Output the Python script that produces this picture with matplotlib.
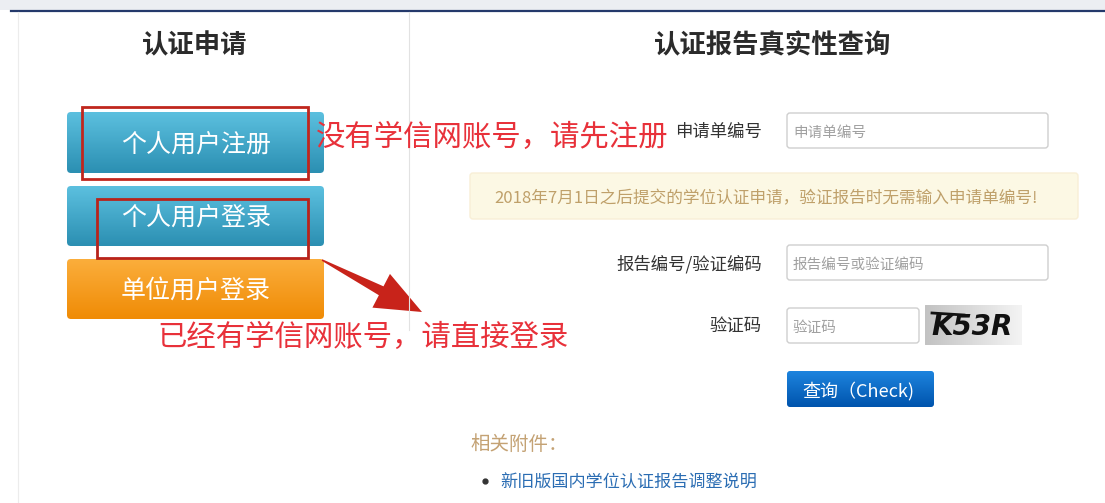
import numpy as np
import matplotlib
matplotlib.use("Agg")
import matplotlib.pyplot as plt
from matplotlib.patches import FancyBboxPatch, Rectangle, Polygon
from matplotlib.colors import LinearSegmentedColormap

plt.rcParams['font.family'] = ['Noto Sans CJK SC', 'DejaVu Sans']

# ---- content ----
left_title = "认证申请"
right_title = "认证报告真实性查询"
button_labels = ["个人用户注册", "个人用户登录", "单位用户登录"]
button_tops = ["#5cc0df", "#5cc0df", "#fbae3c"]
button_bottoms = ["#2b8fb2", "#2b8fb2", "#f08b05"]
note_register = "没有学信网账号，请先注册"
note_login = "已经有学信网账号，请直接登录"
field_labels = ["申请单编号", "报告编号/验证编码", "验证码"]
field_placeholders = ["申请单编号", "报告编号或验证编码", "验证码"]
alert_text = "2018年7月1日之后提交的学位认证申请，验证报告时无需输入申请单编号!"
captcha_text = "K53R"
query_label = "查询（Check)"
attach_title = "相关附件："
attach_links = ["新旧版国内学位认证报告调整说明"]

W, H = 1105, 503
fig = plt.figure(figsize=(W / 100, H / 100), dpi=100)
ax = fig.add_axes([0, 0, 1, 1])
ax.set_xlim(0, W)
ax.set_ylim(H, 0)
ax.axis('off')

DY = 2  # CJK glyphs sit a little high with va='center'


def gradient_box(x, y, w, h, c_top, c_bot, r=4, horizontal=False):
    patch = FancyBboxPatch((x + r, y + r), w - 2 * r, h - 2 * r,
                           boxstyle=f"round,pad={r}", fc='none', ec='none')
    ax.add_patch(patch)
    cmap = LinearSegmentedColormap.from_list('g', [c_top, c_bot])
    grad = np.linspace(0, 1, 128)
    grad = grad.reshape(1, -1) if horizontal else grad.reshape(-1, 1)
    img = ax.imshow(grad, cmap=cmap, extent=(x, x + w, y + h, y),
                    origin='upper', aspect='auto', interpolation='bilinear')
    img.set_clip_path(patch)


def input_box(x, y, w, h, placeholder):
    ax.add_patch(FancyBboxPatch((x + 3, y + 3), w - 6, h - 6,
                                boxstyle="round,pad=3", fc='white',
                                ec='#cfcfcf', lw=1))
    ax.text(x + 6, y + h / 2 + DY, placeholder, fontsize=10.5, color='#a0a0a0',
            ha='left', va='center')


# top strip and frame lines
ax.add_patch(Rectangle((0, 0), W, 10, fc='#eceef2', ec='none'))
ax.plot([11, W], [11, 11], color='#24396b', lw=1.6)
ax.plot([18, 18], [12, H], color='#ececec', lw=0.8)
ax.plot([409, 409], [12, 330], color='#e2e2e2', lw=0.8)

# titles
ax.text(195, 44 + DY, left_title, fontsize=19, fontweight='bold', color='#2b2b2b',
        ha='center', va='center')
ax.text(773, 44 + DY, right_title, fontsize=19, fontweight='bold', color='#2b2b2b',
        ha='center', va='center')

# left buttons
btn_y = [112, 186, 259]
btn_h = [61, 60, 60]
for lab, y, h, ct, cb in zip(button_labels, btn_y, btn_h, button_tops, button_bottoms):
    gradient_box(67, y, 257, h, ct, cb, r=4)
    ax.text(196, y + h / 2 + DY, lab, fontsize=18, color='white',
            ha='center', va='center')

# red highlight boxes
ax.add_patch(Rectangle((82, 107), 226, 72, fc='none', ec='#c0261d', lw=2))
ax.add_patch(Rectangle((97, 199), 211, 59, fc='none', ec='#b8231b', lw=2))

# arrow
p0 = np.array([322.0, 260.0])
p1 = np.array([422.0, 312.0])
d = (p1 - p0) / np.linalg.norm(p1 - p0)
n = np.array([-d[1], d[0]])
hl, hw, tw0, tw1 = 46, 19, 0.8, 5
base = p1 - d * hl
arrow_pts = [p0 + n * tw0, base + n * tw1, base + n * hw, p1,
             base - n * hw, base - n * tw1, p0 - n * tw0]
ax.add_patch(Polygon(arrow_pts, closed=True, fc='#c8231a', ec='none'))

# red notes
ax.text(316, 135 + DY, note_register, fontsize=21.2, color='#e8313a',
        ha='left', va='center')
ax.text(157, 335 + DY, note_login, fontsize=21.2, color='#e8313a',
        ha='left', va='center')

# right form
label_y = [130, 262, 324]
for lab, y in zip(field_labels, label_y):
    ax.text(762, y + DY, lab, fontsize=12.5, color='#333333', ha='right', va='center')

input_box(787, 113, 261, 35, field_placeholders[0])
input_box(787, 245, 261, 35, field_placeholders[1])
input_box(787, 308, 132, 35, field_placeholders[2])

# alert
ax.add_patch(FancyBboxPatch((473, 176), 602, 40, boxstyle="round,pad=3",
                            fc='#fcf8e4', ec='#f8efd6', lw=1))
ax.text(766, 197 + DY, alert_text, fontsize=12, color='#bfa06a',
        ha='center', va='center')

# captcha
gradient_box(925, 305, 97, 40, '#c2c2c2', '#f4f4f4', r=0.5, horizontal=True)
ax.text(972, 327, captcha_text, fontsize=20, fontweight='bold', color='#111111',
        family='DejaVu Sans', style='italic', ha='center', va='center')
ax.plot([932, 964], [313, 315], color='#111111', lw=2)

# query button
gradient_box(787, 371, 147, 36, '#1d84de', '#0054ad', r=3)
ax.text(858, 389 + DY, query_label, fontsize=13, color='white',
        ha='center', va='center')

# attachments
ax.text(470, 442 + DY, attach_title, fontsize=14, color='#c4a274',
        ha='left', va='center')
for i, link in enumerate(attach_links):
    y = 481 + i * 24
    ax.plot([485], [y], marker='o', ms=3.5, color='#333333', ls='none')
    ax.text(500, y + DY, link, fontsize=12.3, color='#2b6db3', ha='left', va='center')

fig.savefig("out.png", dpi=100)
